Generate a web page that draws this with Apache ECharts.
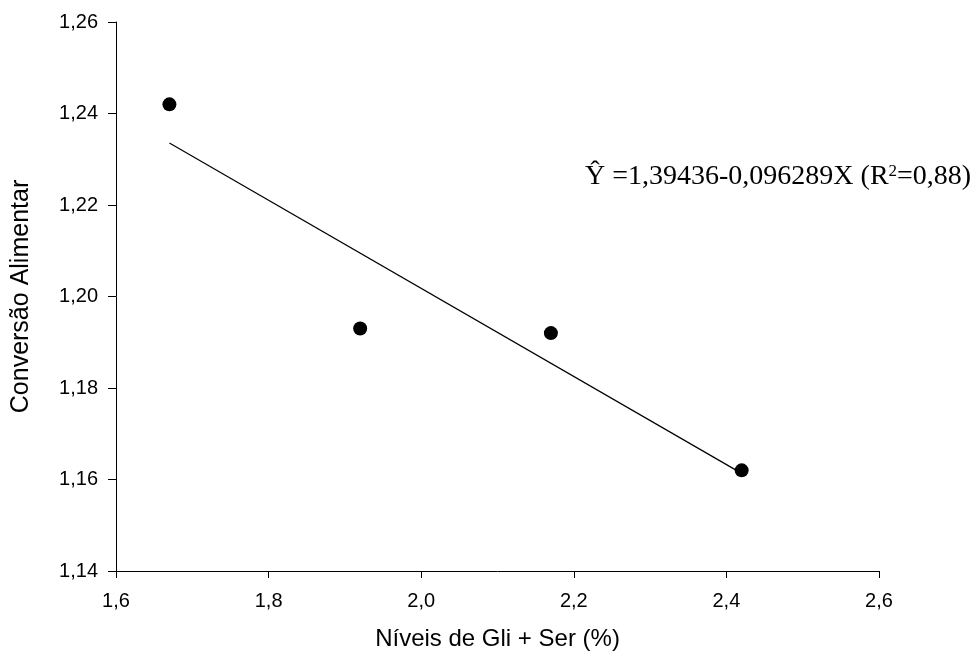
<!DOCTYPE html>
<html>
<head>
<meta charset="utf-8">
<script src="https://cdn.jsdelivr.net/npm/echarts@6/dist/echarts.min.js"></script>
<style>html,body{margin:0;padding:0;background:#fff}#c{width:980px;height:662px}</style>
</head>
<body>
<div id="c"></div>
<script>
var xLevels = [1.67, 1.92, 2.17, 2.42];
var feedConversion = [1.242, 1.193, 1.192, 1.162];
var regIntercept = 1.39436;
var regSlope = -0.096289;
var equationText = 'Ŷ =1,39436-0,096289X (R{sup|2}=0,88)';
var xTitle = 'Níveis de Gli + Ser (%)';
var yTitle = 'Conversão Alimentar';

var pts = xLevels.map(function (x, i) { return [x, feedConversion[i]]; });
var xStart = xLevels[0], xEnd = xLevels[xLevels.length - 1];
var fitLine = [[xStart, regIntercept + regSlope * xStart], [xEnd, regIntercept + regSlope * xEnd]];

var chart = echarts.init(document.getElementById('c'));
chart.setOption({
  backgroundColor: '#fff',
  animation: false,
  grid: { left: 116, right: 101, top: 22, bottom: 91 },
  xAxis: {
    type: 'value', min: 1.6, max: 2.6, interval: 0.2,
    name: xTitle, nameLocation: 'middle', nameGap: 56,
    nameTextStyle: { fontFamily: 'Liberation Sans', fontSize: 24, color: '#000' },
    axisLine: { onZero: false, lineStyle: { color: '#000', width: 1 } },
    axisTick: { show: true, length: 7, lineStyle: { color: '#000' } },
    axisLabel: { fontFamily: 'Liberation Sans', fontSize: 20, color: '#000', margin: 20,
      formatter: function (v) { return v.toFixed(1).replace('.', ','); } },
    splitLine: { show: false }
  },
  yAxis: {
    type: 'value', min: 1.14, max: 1.26, interval: 0.02,
    name: yTitle, nameLocation: 'middle', nameGap: 82, nameRotate: 90,
    nameTextStyle: { fontFamily: 'Liberation Sans', fontSize: 25, color: '#000' },
    axisLine: { show: true, lineStyle: { color: '#000', width: 1 } },
    axisTick: { show: true, length: 8, lineStyle: { color: '#000' } },
    axisLabel: { fontFamily: 'Liberation Sans', fontSize: 20, color: '#000', margin: 18,
      formatter: function (v) { return v.toFixed(2).replace('.', ','); } },
    splitLine: { show: false }
  },
  series: [
    { type: 'line', data: fitLine, symbol: 'none', lineStyle: { color: '#000', width: 1.2 }, z: 2 },
    { type: 'scatter', data: pts, symbol: 'circle', symbolSize: 14, itemStyle: { color: '#000', opacity: 1 }, z: 3 }
  ],
  graphic: [{
    type: 'text', x: 585, y: 191,
    style: {
      text: equationText,
      font: '28px "Liberation Serif"', fill: '#000', verticalAlign: 'bottom',
      rich: { sup: { font: '17px "Liberation Serif"', fill: '#000', verticalAlign: 'top' } }
    }
  }]
});
</script>
</body>
</html>
